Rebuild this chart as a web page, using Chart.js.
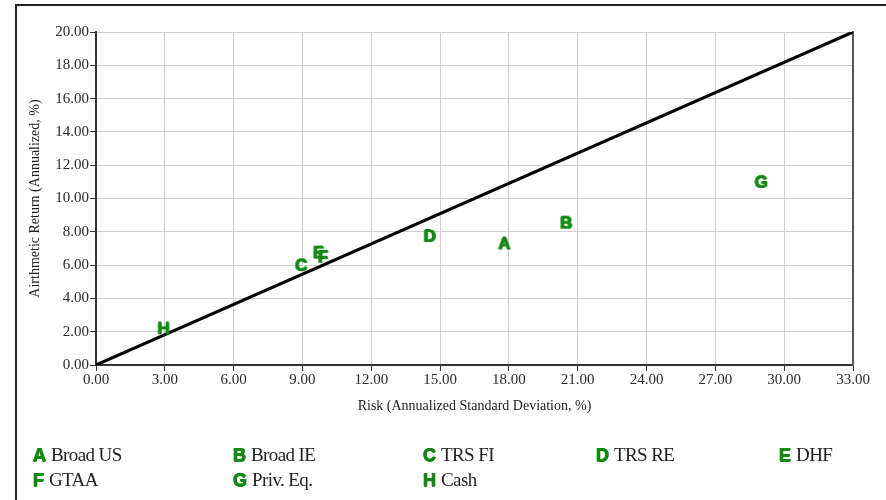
<!DOCTYPE html>
<html>
<head>
<meta charset="utf-8">
<script src="https://cdn.jsdelivr.net/npm/chart.js@4"></script>
<style>
  html, body { margin: 0; padding: 0; background: #fff; }
  #wrap { position: relative; width: 886px; height: 500px; overflow: hidden; }
  #frame { position: absolute; left: 15px; top: 4px; width: 900px; height: 600px;
           border-left: 2px solid #222; border-top: 2px solid #222; }
  #chart { position: absolute; left: 0; top: 0; }
  .leg { position: absolute; white-space: nowrap; line-height: 22px; }
  .leg b { font: bold 18px "Liberation Sans", Arial, sans-serif; color: #138913;
           text-shadow: 0.6px 0 0 #138913, -0.6px 0 0 #138913, 0 0.5px 0 #138913; margin-right: 5px; }
  .leg span { font: 19px "Liberation Serif", "Times New Roman", serif; color: #222; letter-spacing: -0.6px; }
</style>
</head>
<body>
<div id="wrap">
  <div id="frame"></div>
  <canvas id="chart" width="886" height="500"></canvas>
  <div id="legend"></div>
</div>
<script>
// asset classes
const codes = ['A', 'B', 'C', 'D', 'E', 'F', 'G', 'H'];
const names = ['Broad US', 'Broad IE', 'TRS FI', 'TRS RE', 'DHF', 'GTAA', 'Priv. Eq.', 'Cash'];
const risk = [17.8, 20.5, 8.95, 14.55, 9.7, 9.9, 29.0, 2.95];
const ret = [7.3, 8.55, 6.0, 7.75, 6.75, 6.5, 11.0, 2.2];

// reference line
const lineX = [0, 33];
const lineY = [0, 20];

const green = '#138913';
const serif = '"Liberation Serif", "Times New Roman", serif';

// letter markers drawn as images (filled a few times to look heavier)
function letterIcon(ch) {
    const c = document.createElement('canvas');
    c.width = 24; c.height = 22;
    const g = c.getContext('2d');
    g.font = 'bold 17px "Liberation Sans", Arial, sans-serif';
    g.textAlign = 'center';
    g.textBaseline = 'middle';
    g.fillStyle = green;
    [[-0.6, 0], [0.6, 0], [0, 0.4], [0, -0.4], [0, 0]].forEach(o => g.fillText(ch, 12 + o[0], 12 + o[1]));
    return c;
}

const fmt = v => Number(v).toFixed(2);

new Chart(document.getElementById('chart'), {
    data: {
        datasets: [{
            type: 'line',
            data: lineX.map((x, i) => ({ x: x, y: lineY[i] })),
            borderColor: '#000',
            borderWidth: 3,
            pointRadius: 0,
            order: 2
        }, {
            type: 'scatter',
            data: codes.map((c, i) => ({ x: risk[i], y: ret[i] })),
            pointStyle: codes.map(letterIcon),
            order: 1
        }]
    },
    options: {
        responsive: false,
        animation: false,
        layout: { padding: { left: 20, top: 32, right: 33, bottom: 85 } },
        plugins: { legend: { display: false }, tooltip: { enabled: false } },
        scales: {
            x: {
                type: 'linear',
                min: 0, max: 33,
                afterFit: s => { s.height = 50; },
                ticks: { stepSize: 3, callback: fmt, color: '#2a2a2a', font: { family: serif, size: 15 }, padding: 0, maxRotation: 0 },
                grid: { color: '#cfcfcf', tickColor: '#333', tickLength: 6 },
                border: { color: '#333', width: 2 },
                title: { display: true, text: 'Risk (Annualized Standard Deviation, %)', color: '#222',
                         font: { family: serif, size: 14 }, padding: { top: 0, bottom: 0 } }
            },
            y: {
                min: 0, max: 20,
                afterFit: s => { s.width = 76; },
                ticks: { stepSize: 2, callback: fmt, color: '#2a2a2a', font: { family: serif, size: 15 }, padding: 1 },
                grid: { color: '#cfcfcf', tickColor: '#333', tickLength: 6 },
                border: { color: '#333', width: 2 },
                title: { display: true, text: 'Airthmetic Return (Annualized, %)', color: '#222',
                         font: { family: serif, size: 14 }, padding: { top: 7, bottom: 0 } }
            },
            y2: {
                position: 'right',
                min: 0, max: 20,
                afterFit: s => { s.width = 0; },
                ticks: { display: false },
                grid: { drawOnChartArea: false, drawTicks: false },
                border: { color: '#555', width: 2 }
            }
        }
    }
});

// legend below the chart
const colX = [33, 233, 423, 596, 779];
const rowY = [444, 469];
const legend = document.getElementById('legend');
codes.forEach((c, i) => {
    const d = document.createElement('div');
    d.className = 'leg';
    d.style.left = colX[i % 5] + 'px';
    d.style.top = rowY[Math.floor(i / 5)] + 'px';
    d.innerHTML = '<b>' + c + '</b><span>' + names[i] + '</span>';
    legend.appendChild(d);
});
</script>
</body>
</html>
